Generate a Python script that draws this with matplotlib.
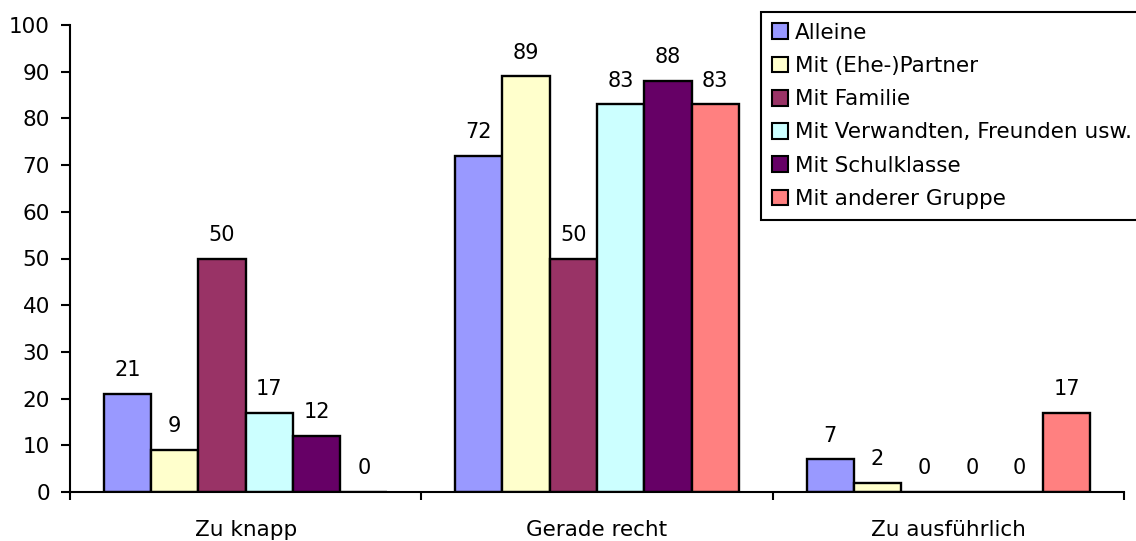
import matplotlib
matplotlib.use("Agg")
import matplotlib.pyplot as plt
from matplotlib.patches import Patch
import numpy as np

categories = ["Zu knapp", "Gerade recht", "Zu ausführlich"]
series_names = [
    "Alleine",
    "Mit (Ehe-)Partner",
    "Mit Familie",
    "Mit Verwandten, Freunden usw.",
    "Mit Schulklasse",
    "Mit anderer Gruppe",
]
alleine = [21, 72, 7]
partner = [9, 89, 2]
familie = [50, 50, 0]
verwandte = [17, 83, 0]
schulklasse = [12, 88, 0]
andere = [0, 83, 17]
series_values = [alleine, partner, familie, verwandte, schulklasse, andere]
colors = ["#9999FF", "#FFFFCC", "#993366", "#CCFFFF", "#660066", "#FF8080"]
y_ticks = list(range(0, 101, 10))

plt.rcParams["font.family"] = ["DejaVu Sans"]

W, H = 1136, 541
fig = plt.figure(figsize=(W / 100, H / 100), dpi=100)
ax = fig.add_axes([70 / W, 1 - 492 / H, (1124 - 70) / W, (492 - 25) / H])

n = len(series_names)
bw = 0.1345
x = np.arange(len(categories))
for j, (name, vals, c) in enumerate(zip(series_names, series_values, colors)):
    xs = x + (j - (n - 1) / 2) * bw
    ax.bar(xs, vals, width=bw, color=c, edgecolor="black", linewidth=1.7,
           label=name, zorder=2)
    for xi, v in zip(xs, vals):
        ax.annotate(f"{v}", xy=(xi, v), xytext=(0, 17), textcoords="offset points",
                    ha="center", va="center", fontsize=15, color="black")

ax.set_xlim(-0.5, len(categories) - 0.5)
ax.set_ylim(0, 100)
ax.set_yticks(y_ticks)
ax.set_yticklabels([str(t) for t in y_ticks], fontsize=15.5)
ax.tick_params(axis="y", direction="out", length=6.5, width=1.5, pad=8)

ax.set_xticks(np.arange(-0.5, len(categories)))
ax.set_xticklabels([])
ax.tick_params(axis="x", direction="out", length=6, width=1.5)
for xi, cat in zip(x, categories):
    ax.annotate(cat, xy=(xi, 0), xycoords=("data", "axes fraction"),
                xytext=(0, -27), textcoords="offset points",
                ha="center", va="center", fontsize=15.5)

for side in ["top", "right"]:
    ax.spines[side].set_visible(False)
for side in ["left", "bottom"]:
    ax.spines[side].set_linewidth(1.5)
    ax.spines[side].set_color("black")

handles = [Patch(facecolor=c, edgecolor="black", linewidth=1.5) for c in colors]
leg = fig.legend(handles, series_names, loc="upper left",
                 bbox_to_anchor=(761 / W, 1 - 12 / H), bbox_transform=fig.transFigure,
                 fontsize=15.5, frameon=True, fancybox=False, framealpha=1,
                 edgecolor="black", handlelength=0.76, handleheight=0.76,
                 handletextpad=0.3, borderpad=0.5, labelspacing=0.615,
                 borderaxespad=0)
leg.get_frame().set_linewidth(1.5)

fig.savefig("out.png", dpi=100)
